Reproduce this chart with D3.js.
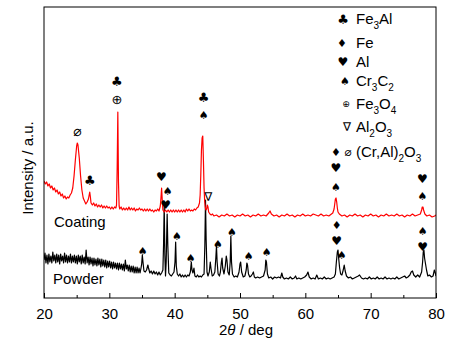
<!DOCTYPE html>
<html><head><meta charset="utf-8">
<script src="https://cdn.jsdelivr.net/npm/d3@7"></script>
<style>
html,body{margin:0;padding:0;background:#fff;}
svg{display:block;}
text{font-family:"Liberation Sans",Arial,sans-serif;fill:#000;}
.sym{font-family:"DejaVu Sans",sans-serif;}
</style></head>
<body>
<svg id="chart" width="451" height="349"></svg>
<script>
// ---------------- DATA ----------------
const xTicks = [20, 30, 40, 50, 60, 70, 80];
const xMinorTicks = [25, 35, 45, 55, 65, 75];
const xLabel = "2θ / deg";
const yLabel = "Intensity / a.u.";
const seriesNames = ["Coating", "Powder"];

// [2θ, intensity a.u.]
const coating = [
[20.0,117],[20.2,114],[20.4,116],[20.6,112],[20.8,114],[21.0,110],[21.2,112],[21.4,108],[21.6,110],[21.8,106],
[22.0,108],[22.2,104],[22.4,106],[22.6,102],[22.8,104],[23.0,100],[23.2,102],[23.4,99],[23.6,101],[23.8,100],
[24.0,103],[24.2,105],[24.4,110],[24.6,122],[24.8,138],[25.0,152],[25.1,155],[25.2,153],[25.4,140],[25.6,122],
[25.8,108],[26.0,100],[26.2,97],[26.4,94],[26.6,96],[26.8,99],[27.0,106],[27.1,101],[27.2,95],[27.4,93],
[27.6,95],[27.8,92],[28.0,94],[28.2,91],[28.4,93],[28.6,91],[28.8,93],[29.0,90],[29.2,92],[29.4,90],
[29.6,92],[29.8,90],[30.0,91],[30.2,89],[30.4,91],[30.6,89],[30.8,91],[31.0,90],[31.1,93],[31.2,130],
[31.3,186],[31.4,116],[31.5,92],[31.6,89],[31.8,91],[32.0,88],[32.2,90],[32.4,88],[32.6,90],[32.8,88],
[33.0,91],[33.2,88],[33.4,90],[33.6,88],[33.8,90],[34.0,87],[34.2,89],[34.4,88],[34.6,90],[34.8,88],
[35.0,89],[35.2,87],[35.4,89],[35.6,87],[35.8,89],[36.0,87],[36.2,89],[36.4,87],[36.6,88],[36.8,86],
[37.0,88],[37.2,87],[37.4,89],[37.6,87],[37.8,92],[37.9,100],[38.0,110],[38.1,98],[38.2,88],[38.4,86],
[38.6,88],[38.8,86],[39.0,88],[39.2,86],[39.4,88],[39.6,86],[39.8,88],[40.0,86],[40.2,88],[40.4,86],
[40.6,88],[40.8,86],[41.0,88],[41.2,86],[41.4,88],[41.6,86],[41.8,89],[42.0,87],[42.2,89],[42.4,87],
[42.6,88],[42.8,87],[43.0,89],[43.2,88],[43.4,90],[43.6,91],[43.8,95],[43.9,103],[44.0,123],[44.1,148],
[44.2,160],[44.3,162],[44.4,138],[44.5,110],[44.6,96],[44.7,90],[44.8,88],[44.9,89],[45.0,93],[45.1,91],
[45.2,86],[45.4,84],[45.6,83],[45.8,84],[46.0,82],[46.4,83],[46.8,81],[47.2,83],[47.6,82],[48.0,84],
[48.4,82],[48.8,83],[49.2,81],[49.6,83],[50.0,82],[50.4,84],[50.8,82],[51.2,83],[51.6,81],[52.0,83],
[52.4,82],[52.8,84],[53.2,82],[53.6,83],[54.0,82],[54.4,85],[54.6,87],[54.8,84],[55.2,82],[55.6,83],
[56.0,81],[56.4,83],[56.8,82],[57.2,84],[57.6,82],[58.0,83],[58.4,81],[58.8,83],[59.2,82],[59.6,84],
[60.0,82],[60.4,83],[60.8,82],[61.2,84],[61.6,83],[62.0,82],[62.4,84],[62.8,82],[63.2,83],[63.6,82],
[64.0,84],[64.2,85],[64.4,89],[64.5,94],[64.6,99],[64.7,100],[64.8,96],[64.9,90],[65.0,86],[65.2,84],
[65.6,82],[66.0,83],[66.4,81],[66.8,83],[67.2,82],[67.6,84],[68.0,82],[68.4,83],[68.8,81],[69.2,83],
[69.6,82],[70.0,84],[70.4,82],[70.8,83],[71.2,81],[71.6,83],[72.0,82],[72.4,84],[72.8,82],[73.2,83],
[73.6,82],[74.0,84],[74.4,82],[74.8,83],[75.2,81],[75.6,83],[76.0,82],[76.4,84],[76.8,82],[77.2,83],
[77.6,84],[77.8,88],[77.9,91],[78.0,91],[78.1,88],[78.3,84],[78.6,82],[79.0,83],[79.4,81],[79.8,82],[80.0,83]
];

const powder = [
[20.0,38],[20.15,45],[20.3,35],[20.45,43],[20.6,34],[20.75,44],[20.9,36],[21.05,42],[21.2,35],[21.35,46],
[21.5,37],[21.65,43],[21.8,35],[21.95,44],[22.1,36],[22.25,43],[22.4,34],[22.55,44],[22.7,37],[22.85,42],
[23.0,35],[23.15,45],[23.3,36],[23.45,43],[23.6,35],[23.75,42],[23.9,36],[24.05,44],[24.2,35],[24.35,42],
[24.5,36],[24.65,43],[24.8,35],[24.95,42],[25.1,34],[25.25,43],[25.4,36],[25.55,42],[25.7,34],[25.85,43],
[26.0,35],[26.15,41],[26.3,34],[26.45,48],[26.6,35],[26.75,41],[26.9,33],[27.05,41],[27.2,34],[27.35,40],
[27.5,32],[27.65,40],[27.8,33],[27.95,39],[28.1,32],[28.25,40],[28.4,33],[28.55,39],[28.7,31],[28.85,39],
[29.0,32],[29.15,38],[29.3,31],[29.45,38],[29.6,30],[29.75,37],[29.9,31],[30.05,37],[30.2,30],[30.35,36],
[30.5,29],[30.65,36],[30.8,30],[30.95,35],[31.1,29],[31.25,35],[31.4,28],[31.55,35],[31.7,29],[31.85,34],
[32.0,28],[32.15,34],[32.3,27],[32.45,38],[32.6,29],[32.75,33],[32.9,27],[33.05,33],[33.2,26],[33.35,32],
[33.5,26],[33.65,32],[33.8,25],[33.95,31],[34.1,25],[34.25,31],[34.4,25],[34.55,30],[34.7,25],[34.85,30],
[34.95,34],[35.05,43],[35.15,36],[35.3,27],[35.5,26],[35.7,28],[35.9,33],[36.0,30],[36.2,25],[36.4,27],
[36.6,24],[36.8,27],[37.0,24],[37.2,26],[37.4,23],[37.6,26],[37.8,23],[38.0,25],[38.2,28],[38.3,53],
[38.4,93],[38.5,43],[38.6,22],[38.7,36],[38.85,84],[38.95,53],[39.1,25],[39.3,23],[39.5,22],[39.7,24],
[39.9,26],[40.05,36],[40.15,56],[40.25,32],[40.4,24],[40.6,22],[40.8,24],[41.0,21],[41.2,23],[41.4,21],
[41.6,23],[41.8,21],[42.0,23],[42.2,22],[42.4,26],[42.55,36],[42.65,28],[42.8,25],[42.95,30],[43.1,22],
[43.3,21],[43.5,23],[43.7,21],[43.9,22],[44.1,21],[44.3,23],[44.5,24],[44.62,53],[44.72,98],[44.82,58],
[44.95,26],[45.1,22],[45.3,26],[45.45,36],[45.55,30],[45.75,22],[45.95,23],[46.15,26],[46.3,40],[46.4,52],
[46.5,36],[46.65,24],[46.85,22],[47.0,26],[47.15,36],[47.25,40],[47.35,30],[47.55,24],[47.75,32],[47.9,42],
[48.0,38],[48.15,26],[48.35,23],[48.5,36],[48.6,62],[48.7,36],[48.85,24],[49.1,21],[49.35,22],[49.6,21],
[49.85,26],[50.0,34],[50.1,36],[50.25,26],[50.5,21],[50.75,22],[50.95,28],[51.05,35],[51.15,33],[51.3,24],
[51.5,21],[51.7,22],[51.9,24],[52.05,26],[52.2,21],[52.4,20],[52.7,21],[53.0,20],[53.3,21],[53.6,22],
[53.85,28],[53.95,38],[54.05,36],[54.2,24],[54.4,20],[54.7,21],[55.0,19],[55.3,21],[55.6,20],[55.9,21],
[56.2,20],[56.4,25],[56.55,21],[56.8,19],[57.1,20],[57.4,19],[57.7,21],[58.0,19],[58.3,20],[58.5,22],
[58.7,19],[59.0,20],[59.3,19],[59.6,20],[59.9,21],[60.2,23],[60.4,26],[60.6,21],[60.9,19],[61.2,20],
[61.5,19],[61.75,23],[62.0,19],[62.3,20],[62.6,19],[62.9,21],[63.2,19],[63.5,20],[63.8,19],[64.1,20],
[64.4,21],[64.6,24],[64.75,36],[64.9,46],[65.0,48],[65.1,40],[65.25,30],[65.4,24],[65.6,23],[65.8,28],
[65.95,33],[66.1,27],[66.3,22],[66.6,20],[66.9,21],[67.2,19],[67.5,20],[67.8,21],[68.1,22],[68.3,23],
[68.6,20],[68.9,19],[69.2,20],[69.5,19],[69.8,21],[70.1,19],[70.4,20],[70.7,19],[71.0,21],[71.3,19],
[71.6,20],[71.9,19],[72.2,21],[72.5,19],[72.8,20],[73.1,19],[73.4,20],[73.7,19],[74.0,21],[74.3,19],
[74.6,20],[74.9,21],[75.2,22],[75.45,20],[75.7,21],[76.0,23],[76.2,26],[76.4,27],[76.6,23],[76.9,21],
[77.2,23],[77.5,21],[77.8,26],[77.95,36],[78.05,46],[78.15,48],[78.25,40],[78.4,34],[78.55,28],[78.75,22],
[79.0,23],[79.3,21],[79.55,22],[79.75,28],[79.9,25],[80.0,22]
];

// phase symbols
const phaseKeys   = ["club", "diamond", "heart", "spade", "oplus", "nabla", "phi"];
const phaseGlyphs = ["♣", "♦", "♥", "♠", "⊕", "∇", "⌀"];
const phaseNames  = ["Fe3Al", "Fe", "Al", "Cr3C2", "Fe3O4", "Al2O3", "(Cr,Al)2O3"];

// peak annotations: [phase, 2θ, intensity level]
const coatingMarks = [
["phi",25.1,167],["club",27.0,118],["club",31.15,217],["oplus",31.15,199],["heart",37.95,121],
["spade",38.93,107],["club",44.44,201],["spade",44.44,183],["nabla",45.15,101],
["diamond",64.68,146],["heart",64.68,130],["spade",64.68,111],["heart",77.93,119],["spade",77.93,102]
];
const powderMarks = [
["heart",38.63,93],["spade",35.1,47],["spade",40.36,62],["spade",42.45,40],["spade",46.63,54],
["spade",48.78,66],["spade",51.33,42],["spade",54.09,46],["diamond",64.8,73],["heart",64.8,57],
["spade",65.57,43],["spade",77.97,67],["heart",77.97,51]
];

// ---------------- LAYOUT ----------------
const margin = {left:44, top:7, right:15, bottom:51};
const W = 451, H = 349;
const pw = W - margin.left - margin.right, ph = H - margin.top - margin.bottom;
const svg = d3.select("#chart");
const g = svg.append("g").attr("transform", `translate(${margin.left},${margin.top})`);

const x = d3.scaleLinear().domain([20, 80]).range([0, pw]);
const y = d3.scaleLinear().domain([0, 291]).range([ph, 0]);

const line = d3.line().x(d => x(d[0])).y(d => y(d[1]));

g.append("defs").append("clipPath").attr("id","clip")
  .append("rect").attr("width", pw).attr("height", ph);

const plot = g.append("g").attr("clip-path","url(#clip)");
plot.append("path").datum(powder).attr("d", line)
  .attr("fill","none").attr("stroke","#000").attr("stroke-width",1.2).attr("stroke-linejoin","round");
plot.append("path").datum(coating).attr("d", line)
  .attr("fill","none").attr("stroke","#ff0000").attr("stroke-width",1.2).attr("stroke-linejoin","round");

// axes
const xAxis = d3.axisBottom(x).tickValues(xTicks).tickSize(-5).tickPadding(10).tickFormat(d3.format("d"));
const gx = g.append("g").attr("transform", `translate(0,${ph})`).call(xAxis);
gx.select(".domain").remove();
gx.selectAll("text").attr("font-size", 15).attr("font-family", '"Liberation Sans",Arial,sans-serif').attr("dy","0.71em");
gx.selectAll("line").attr("stroke","#000");
const gxm = g.append("g").attr("transform", `translate(0,${ph})`)
  .call(d3.axisBottom(x).tickValues(xMinorTicks).tickSize(-3).tickFormat(""));
gxm.select(".domain").remove();

// frame
g.append("rect").attr("width", pw).attr("height", ph).attr("fill","none").attr("stroke","#000").attr("stroke-width",1);

// axis labels
const xl = svg.append("text").attr("x", 246).attr("y", 335).attr("text-anchor","middle").attr("font-size",15);
xl.append("tspan").text("2");
xl.append("tspan").attr("font-style","italic").text("θ");
xl.append("tspan").text(" / deg");

svg.append("text").attr("transform","translate(33,168) rotate(-90)")
  .attr("text-anchor","middle").attr("font-size",15).text(yLabel);

// series labels
svg.append("text").attr("x", 54).attr("y", 227).attr("font-size",15).text(seriesNames[0]);
svg.append("text").attr("x", 53).attr("y", 284).attr("font-size",15).text(seriesNames[1]);

// glyph helpers
const glyphOf = k => phaseGlyphs[phaseKeys.indexOf(k)];
const chartSize = {club:13, diamond:11, heart:12, spade:11, oplus:13, nabla:12, phi:14};
const legendSize = {club:13, diamond:11, heart:12, spade:11, oplus:9, nabla:12, phi:12};

function drawMarks(marks) {
  g.selectAll(null).data(marks).enter().append("text")
    .attr("class","sym")
    .attr("x", d => x(d[1])).attr("y", d => y(d[2]))
    .attr("text-anchor","middle").attr("dominant-baseline","central")
    .attr("font-size", d => chartSize[d[0]])
    .text(d => glyphOf(d[0]));
}
drawMarks(coatingMarks);
drawMarks(powderMarks);

// legend
const legRowY = [24, 48, 67, 86, 109, 132, 157];
const legSymX = [343, 342, 343, 345, 346, 347, 348];
const legTextX = 356;
phaseKeys.forEach((k, i) => {
  svg.append("text").attr("class","sym")
    .attr("x", legSymX[i]).attr("y", legRowY[i] - 5)
    .attr("text-anchor","middle").attr("dominant-baseline","central")
    .attr("font-size", legendSize[k]).text(phaseGlyphs[i]);
  const t = svg.append("text").attr("x", legTextX).attr("y", legRowY[i]).attr("font-size",15);
  const parts = phaseNames[i].split(/(\d)/).filter(s => s.length);
  let sub = false;
  parts.forEach(p => {
    if (/^\d$/.test(p)) {
      t.append("tspan").attr("font-size",10).attr("dy", 5).text(p);
      sub = true;
    } else {
      const ts = t.append("tspan").text(p);
      if (sub) { ts.attr("dy", -5); sub = false; }
    }
  });
});
</script>
</body></html>
